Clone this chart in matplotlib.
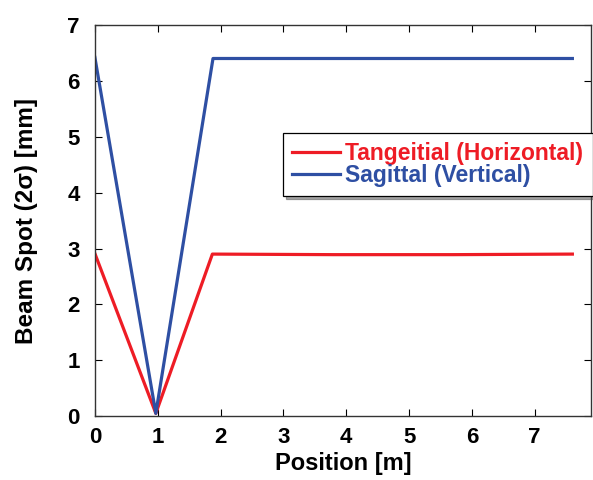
import matplotlib
matplotlib.use("Agg")
import matplotlib.pyplot as plt

plt.rcParams['font.family'] = ['Liberation Sans', 'DejaVu Sans']

pos_t = [0.0, 0.97, 1.87, 3.8, 5.7, 7.6]
tang = [2.91, 0.05, 2.90, 2.89, 2.89, 2.90]
pos_s = [0.0, 0.97, 1.88, 7.6]
sag = [6.42, 0.05, 6.40, 6.40]

xticks = [0, 1, 2, 3, 4, 5, 6, 7]
yticks = [0, 1, 2, 3, 4, 5, 6, 7]

red = '#ee1c25'
blue = '#2e4fa3'

fig = plt.figure(figsize=(5.93, 4.80), dpi=100)
ax = fig.add_axes([0.160, 0.133, 0.837, 0.815])
ax.plot(pos_t, tang, color=red, lw=2.3, label='Tangeitial (Horizontal)')
ax.plot(pos_s, sag, color=blue, lw=2.3, label='Sagittal (Vertical)')

ax.set_xlim(0, 7.9)
ax.set_ylim(0, 7)
ax.set_xticks(xticks)
ax.set_yticks(yticks)
ax.tick_params(direction='in', top=True, right=True, length=5, width=0.8,
               labelsize=16)
ax.tick_params(axis='y', pad=11)
ax.tick_params(axis='x', pad=8)
for lab in ax.get_xticklabels() + ax.get_yticklabels():
    lab.set_fontweight('bold')
for s in ax.spines.values():
    s.set_linewidth(1.0)
    s.set_color('#333333')

ax.set_xlabel('Position [m]', fontsize=17, fontweight='bold', labelpad=3)
ax.set_ylabel('Beam Spot (2σ) [mm]', fontsize=17.5, fontweight='bold', labelpad=21)

leg = fig.legend(loc='upper left', bbox_to_anchor=(283 / 593, 1 - 133 / 480),
                 bbox_transform=fig.transFigure, borderaxespad=0,
                 frameon=True, shadow=True, fancybox=False, framealpha=1,
                 edgecolor='black', handlelength=2.1, handletextpad=0.22,
                 borderpad=0.4, labelspacing=-0.05,
                 prop={'weight': 'bold', 'size': 16.5})
leg.get_frame().set_linewidth(0.9)
for txt, c in zip(leg.get_texts(), [red, blue]):
    txt.set_color(c)

fig.savefig('out.png', dpi=100)
